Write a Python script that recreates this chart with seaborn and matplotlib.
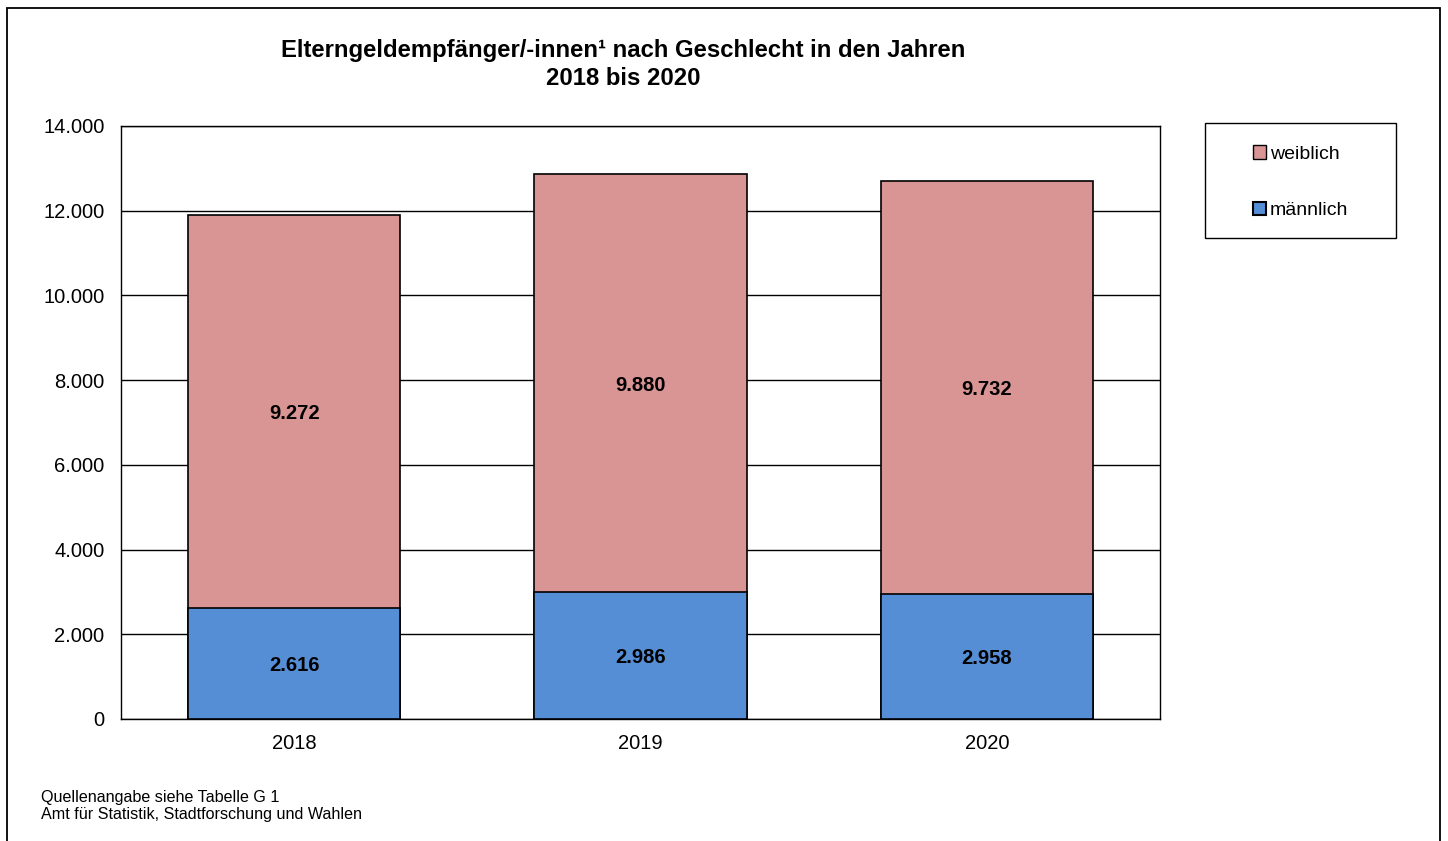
import matplotlib
matplotlib.use("Agg")
import matplotlib.pyplot as plt
import seaborn as sns
import pandas as pd
from matplotlib.patches import Rectangle
from matplotlib.ticker import FuncFormatter

years = ["2018", "2019", "2020"]
maennlich = [2616, 2986, 2958]
weiblich = [9272, 9880, 9732]

color_w = "#D99594"
color_m = "#558ED5"

sns.set_style("white")
plt.rcParams["font.family"] = ["Liberation Sans", "DejaVu Sans"]
plt.rcParams["text.color"] = "black"
plt.rcParams["xtick.color"] = "black"
plt.rcParams["ytick.color"] = "black"

df = pd.DataFrame({"Jahr": years, "männlich": maennlich, "weiblich": weiblich})
df["gesamt"] = df["männlich"] + df["weiblich"]

fig = plt.figure(figsize=(14.48, 8.41), dpi=100)
ax = fig.add_axes([0.0836, 0.1451, 0.7175, 0.7051])

# total bar first (weiblich on top), then männlich drawn over it
sns.barplot(data=df, x="Jahr", y="gesamt", color=color_w, saturation=1,
            width=0.613, edgecolor="black", linewidth=1.2, ax=ax, zorder=3)
sns.barplot(data=df, x="Jahr", y="männlich", color=color_m, saturation=1,
            width=0.613, edgecolor="black", linewidth=1.2, ax=ax, zorder=4)

def fmt(v):
    return f"{int(v):,}".replace(",", ".")

for i, row in df.iterrows():
    ax.text(i, row["männlich"] / 2, fmt(row["männlich"]), ha="center", va="center_baseline",
            fontsize=14.5, fontweight="bold", color="black", zorder=5)
    ax.text(i, row["männlich"] + row["weiblich"] / 2, fmt(row["weiblich"]),
            ha="center", va="center_baseline", fontsize=14.5, fontweight="bold",
            color="black", zorder=5)

ax.set_ylim(0, 14000)
ax.set_yticks(range(0, 14001, 2000))
ax.yaxis.set_major_formatter(FuncFormatter(lambda v, p: fmt(v)))
ax.grid(True, axis="y", color="black", linewidth=1, zorder=0)
ax.set_axisbelow(True)
ax.tick_params(axis="both", length=0, labelsize=14.5, colors="black")
ax.tick_params(axis="y", pad=12)
ax.tick_params(axis="x", pad=11)
ax.set_xlabel("")
ax.set_ylabel("")
for s in ax.spines.values():
    s.set_visible(True)
    s.set_color("black")
    s.set_linewidth(1)

fig.text(0.4305, 0.9233, "Elterngeldempfänger/-innen¹ nach Geschlecht in den Jahren\n2018 bis 2020",
         ha="center", va="center", fontsize=17.2, fontweight="bold", color="black",
         linespacing=1.25)

fig.text(0.028, 0.0416, "Quellenangabe siehe Tabelle G 1\nAmt für Statistik, Stadtforschung und Wahlen",
         ha="left", va="center", fontsize=11.6, color="black", linespacing=1.2)

# outer frame
fig.patches.append(Rectangle((0.0048, -0.02), 0.9897, 1.0105, transform=fig.transFigure,
                             fill=False, edgecolor="black", linewidth=1.3))
# legend frame
fig.patches.append(Rectangle((0.8322, 0.717), 0.1319, 0.137, transform=fig.transFigure,
                             fill=False, edgecolor="black", linewidth=1))

handles = [Rectangle((0, 0), 1, 1, facecolor=color_w, edgecolor="black", linewidth=1),
           Rectangle((0, 0), 1, 1, facecolor=color_m, edgecolor="black", linewidth=1.5)]
fig.legend(handles, ["weiblich", "männlich"], loc="center",
           bbox_to_anchor=(0.8981, 0.7835), frameon=False, fontsize=14,
           handlelength=0.7, handleheight=0.7, handletextpad=0.2, labelspacing=2.0)

fig.savefig("out.png", dpi=100)
